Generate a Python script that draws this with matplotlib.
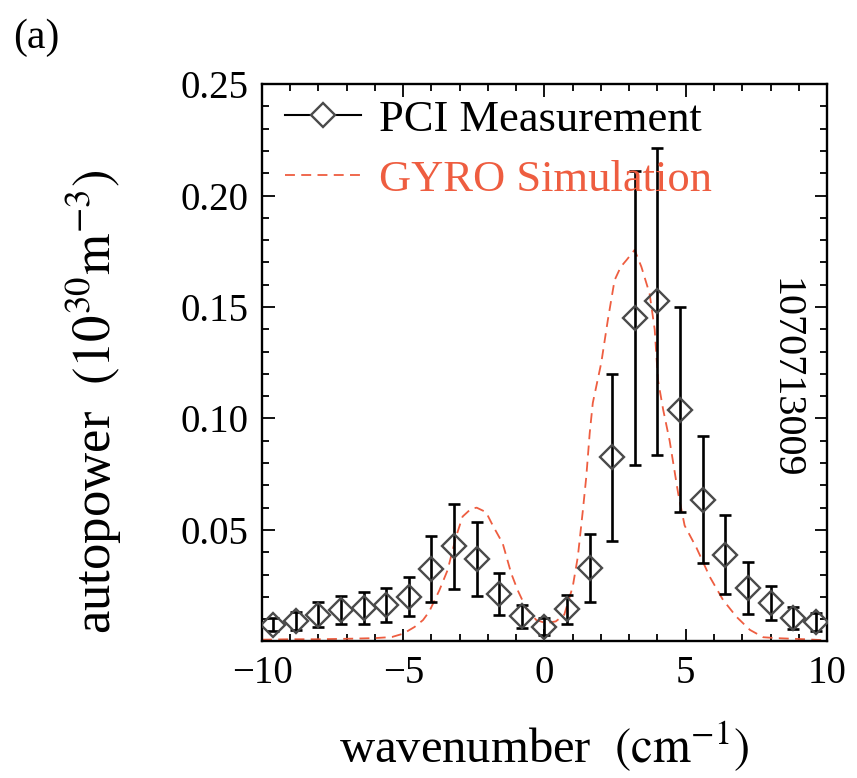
import matplotlib
matplotlib.use("Agg")
import matplotlib.pyplot as plt
from matplotlib.lines import Line2D
import numpy as np

# PCI measured autopower spectrum (wavenumber in cm^-1)
k_meas = [-9.6, -8.8, -8.0, -7.2, -6.4, -5.6, -4.8, -4.0, -3.2, -2.4, -1.6, -0.8, 0.0,
          0.8, 1.6, 2.4, 3.2, 4.0, 4.8, 5.6, 6.4, 7.2, 8.0, 8.8, 9.6]
p_meas = [0.0075, 0.009, 0.012, 0.0142, 0.015, 0.0165, 0.020, 0.0325, 0.0427, 0.037,
          0.0213, 0.0112, 0.0067, 0.0145, 0.033, 0.0826, 0.145, 0.1525, 0.104, 0.0636,
          0.0389, 0.024, 0.0172, 0.0105, 0.0087]
p_err = [0.003, 0.004, 0.0055, 0.0064, 0.007, 0.0077, 0.0088, 0.0146, 0.019, 0.0165,
         0.0096, 0.005, 0.0037, 0.0065, 0.0153, 0.0374, 0.066, 0.069, 0.046, 0.0285,
         0.0176, 0.0116, 0.0077, 0.005, 0.004]

# GYRO synthetic-diagnostic spectrum
k_sim = [-10.0, -9.0, -8.0, -7.0, -6.0, -5.4, -5.0, -4.6, -4.3, -4.08, -3.72, -3.43,
         -3.13, -2.9, -2.6, -2.4, -2.07, -1.83, -1.48, -1.18, -0.95, -0.65, -0.29, 0.06,
         0.4, 0.7, 1.0, 1.18, 1.36, 1.48, 1.6, 1.71, 2.01, 2.24, 2.48, 2.7, 2.9, 3.19,
         3.43, 3.72, 3.9, 4.02, 4.2, 4.43, 4.73, 4.96, 5.38, 5.85, 6.32, 6.8, 7.27, 7.74,
         8.2, 9.2, 10.0]
p_sim = [0.0008, 0.001, 0.001, 0.0012, 0.0015, 0.002, 0.0035, 0.0065, 0.0096, 0.0134,
         0.023, 0.032, 0.047, 0.056, 0.0595, 0.060, 0.058, 0.052, 0.044, 0.0306, 0.023,
         0.0149, 0.0096, 0.0082, 0.009, 0.012, 0.0246, 0.038, 0.059, 0.074, 0.0934, 0.107,
         0.125, 0.144, 0.162, 0.168, 0.171, 0.1756, 0.168, 0.156, 0.140, 0.117, 0.104,
         0.090, 0.0665, 0.052, 0.042, 0.029, 0.0186, 0.011, 0.0052, 0.0019, 0.0015, 0.001,
         0.0005]

xticks = [-10, -5, 0, 5, 10]
xtick_labels = ["\u221210", "\u22125", "0", "5", "10"]
yticks = [0.05, 0.10, 0.15, 0.20, 0.25]
ytick_labels = ["0.05", "0.10", "0.15", "0.20", "0.25"]

RED = "#ee5d40"
DASH = (0, (5.5, 3.5))

plt.rcParams["font.family"] = ["Liberation Serif", "DejaVu Serif"]
plt.rcParams["mathtext.fontset"] = "stix"

fig = plt.figure(figsize=(8.57, 7.78), dpi=100)
ax = fig.add_axes([0.3057, 0.1755, 0.6593, 0.7165])

ax.plot(k_sim, p_sim, color=RED, lw=1.3, ls=DASH, zorder=2)
ax.errorbar(k_meas, p_meas, yerr=p_err, fmt="none", ecolor="black", elinewidth=1.9,
            capsize=4.3, capthick=1.9, zorder=3)
ax.plot(k_meas, p_meas, ls="none", marker="D", ms=12, mfc="none", mec="#4a4a4a",
        mew=1.7, zorder=4)

ax.set_xlim(-10, 10)
ax.set_ylim(0, 0.25)
ax.set_xticks(xticks)
ax.set_xticklabels(xtick_labels)
ax.set_xticks(np.arange(-10, 11, 1), minor=True)
ax.set_yticks(yticks)
ax.set_yticklabels(ytick_labels)
ax.set_yticks(np.arange(0, 0.2501, 0.01), minor=True)

ax.tick_params(which="both", direction="in", top=True, right=True, width=1.3,
               labelsize=28, pad=10)
ax.tick_params(which="major", length=9)
ax.tick_params(which="minor", length=5)
for s in ax.spines.values():
    s.set_linewidth(1.7)

ax.set_xlabel(r"wavenumber  $(\mathrm{cm}^{-1})$", fontsize=35)
ax.xaxis.set_label_coords(0.5, -0.14)
ax.set_ylabel(r"autopower  $(10^{30}\mathrm{m}^{-3})$", fontsize=38)
ax.yaxis.set_label_coords(-0.245, 0.43)

ax.text(8.5, 0.118, "1070713009", rotation=-90, fontsize=29, ha="center", va="center")

handles = [
    Line2D([], [], color="black", lw=1.5, marker="D", ms=12, mfc="white",
           mec="#4a4a4a", mew=1.7),
    Line2D([], [], color=RED, lw=1.3, ls=DASH),
]
leg = ax.legend(handles, ["PCI Measurement", "GYRO Simulation"], loc="upper left",
                frameon=False, fontsize=32, handlelength=1.73, handletextpad=0.4,
                labelspacing=0.45, borderaxespad=0.0, borderpad=0.0,
                bbox_to_anchor=(0.04, 0.972))
leg.get_texts()[1].set_color(RED)

fig.text(0.015, 0.952, "(a)", fontsize=30, ha="left", va="center")

fig.savefig("out.png", dpi=100)
